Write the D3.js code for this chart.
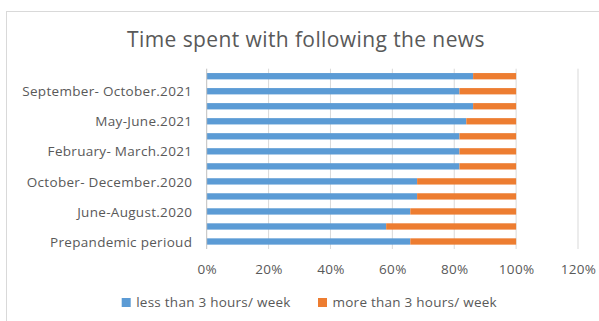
<!DOCTYPE html>
<html><head><meta charset="utf-8">
<script src="https://cdn.jsdelivr.net/npm/d3@7"></script>
<style>body{margin:0;background:#fff;}svg{display:block;font-family:"Open Sans",sans-serif;}</style>
</head><body>
<svg id="c" width="599" height="321"></svg>
<script>
// Categories bottom to top (only every other label is shown in the chart)
const categories = [
  "Prepandemic perioud", "March-May.2020", "June-August.2020", "September.2020",
  "October- December.2020", "January.2021", "February- March.2021", "April.2021",
  "May-June.2021", "July-August.2021", "September- October.2021", "November.2021"
];
const shownLabels = ["Prepandemic perioud","June-August.2020","October- December.2020","February- March.2021","May-June.2021","September- October.2021"];
const lessThan3 = [0.658, 0.580, 0.658, 0.680, 0.680, 0.817, 0.817, 0.817, 0.839, 0.861, 0.817, 0.861];
const moreThan3 = [0.342, 0.420, 0.342, 0.320, 0.320, 0.183, 0.183, 0.183, 0.161, 0.139, 0.183, 0.139];
const seriesNames = ["less than 3 hours/ week", "more than 3 hours/ week"];
const seriesColors = ["#5B9BD5", "#ED7D31"];
const xTicks = [0, 0.2, 0.4, 0.6, 0.8, 1.0, 1.2];
const title = "Time spent with following the news";

const FONT = "'Open Sans',sans-serif";
const svg = d3.select("#c");
// chart border
svg.append("rect").attr("x",6.5).attr("y",11.5).attr("width",700).attr("height",400)
  .attr("fill","none").attr("stroke","#d9d9d9");

const x = d3.scaleLinear().domain([0,1.2]).range([206.7,578]);
const y = d3.scaleBand().domain(categories.slice().reverse()).range([68.7,249])
  .paddingInner(0.58).paddingOuter(0.29);

// gridlines
svg.append("g").selectAll("line").data(xTicks.slice(1)).join("line")
  .attr("x1",d=>x(d)).attr("x2",d=>x(d)).attr("y1",68.7).attr("y2",249)
  .attr("stroke","#d9d9d9").attr("stroke-width",1);

// stacked bars
const rows = categories.map((c,i)=>({cat:c, less:lessThan3[i], more:moreThan3[i]}));
const stack = d3.stack().keys(["less","more"])(rows);
svg.append("g").selectAll("g").data(stack).join("g")
  .attr("fill",(d,i)=>seriesColors[i])
  .selectAll("rect").data(d=>d).join("rect")
  .attr("x",d=>x(d[0])).attr("width",d=>x(d[1])-x(d[0]))
  .attr("y",d=>y(d.data.cat)).attr("height",y.bandwidth());

// y axis line
svg.append("line").attr("x1",x(0)).attr("x2",x(0)).attr("y1",68.7).attr("y2",249)
  .attr("stroke","#bfbfbf").attr("stroke-width",1);

// y labels
const yAxis = d3.axisLeft(y).tickValues(shownLabels).tickSize(0).tickPadding(14.5);
const yg = svg.append("g").attr("transform",`translate(${x(0)},0)`).call(yAxis);
yg.select(".domain").remove();
yg.selectAll("text").attr("fill","#595959").attr("dy","0.38em")
  .style("font-size","13.5px").style("letter-spacing","0.3px").style("font-family",FONT);

// x labels
const xAxis = d3.axisBottom(x).tickValues(xTicks).tickFormat(d3.format(".0%")).tickSize(0).tickPadding(0);
const xg = svg.append("g").attr("transform","translate(0,264)").call(xAxis);
xg.select(".domain").remove();
xg.selectAll("text").attr("fill","#595959").style("font-size","13.5px").style("letter-spacing","0.3px").style("font-family",FONT);

// title
svg.append("text").attr("x",306).attr("y",47).attr("text-anchor","middle")
  .attr("fill","#595959").style("font-size","21px").style("letter-spacing","0.4px").text(title);

// legend
const lg = svg.append("g");
const legX = [121.7, 318];
seriesNames.forEach((n,i)=>{
  lg.append("rect").attr("x",legX[i]).attr("y",298).attr("width",9).attr("height",9).attr("fill",seriesColors[i]);
  lg.append("text").attr("x",legX[i]+14.5).attr("y",307).attr("fill","#595959")
    .style("font-size","13.5px").style("letter-spacing","0.25px").text(n);
});
</script>
</body></html>
